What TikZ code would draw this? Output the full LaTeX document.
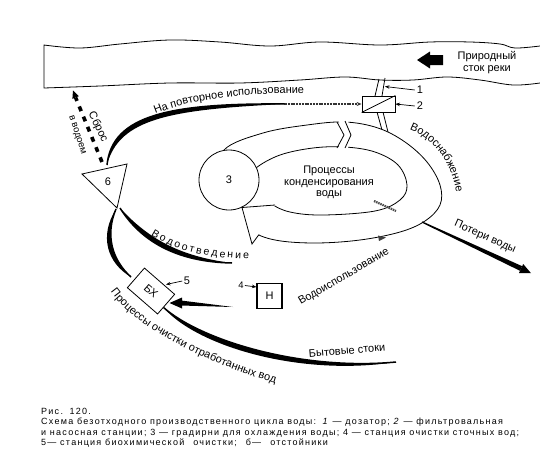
\documentclass[tikz,border=0pt]{standalone}
\usepackage{fontspec}
\setmainfont{Liberation Sans}
\newfontfamily\capfont[LetterSpace=14]{Liberation Sans}
\usetikzlibrary{arrows.meta,decorations.text,shapes.geometric}
\begin{document}
\begin{tikzpicture}[x=1pt,y=-1pt,
  thinline/.style={line width=0.8pt},
  lbl/.style={font=\fontsize{11}{12}\selectfont, inner sep=0pt},
  smalllbl/.style={font=\fontsize{9.5}{11}\selectfont, inner sep=0pt},
  captext/.style={font=\capfont\fontsize{9}{11}\selectfont, anchor=base west, inner sep=0pt},
  heavystroke/.style={line width=1.5pt},
  pointer/.style={line width=0.7pt, -{Stealth[length=4.5pt,width=3.5pt]}},
  boxnode/.style={draw, thinline, fill=white, inner sep=0pt},
]
\useasboundingbox (0,0) rectangle (540,458);

% ---------------- river
\draw[thinline] plot[smooth, tension=0.6] coordinates {(540,46) (515,48) (500,44) (470,42) (430,42) (380,45) (320,42) (270,46) (220,42) (170,40) (120,44) (80,48) (44,45)}
  -- plot[smooth, tension=0.6] coordinates {(44,88) (100,86) (170,83) (240,83) (300,80) (345,77) (380,80) (413,80) (447,77) (480,80) (513,85) (540,83)};
\fill (417,60) -- (430,51.5) -- (430,55) -- (443,55) -- (443,65) -- (430,65) -- (430,68.5) -- cycle;
\node[lbl, align=center] (river) at (487,63) {Природный\\сток реки};

% ---------------- pipe, dosing unit and filter station
\draw[thinline] (379,79) -- (375,96);
\draw[thinline] (385,78) -- (382,96);
\draw[thinline] (377,112) -- (382,130);
\draw[thinline] (383,112) -- (388,132);
\node[boxnode, minimum width=33pt, minimum height=16pt] (b2) at (378.5,104) {};
\draw[thinline] (b2.south west) -- (b2.north east);
\node[lbl] (n1) at (420,90) {1};
\node[lbl] (n2) at (420,106) {2};
\coordinate (pipe1) at (385,86.5);
\draw[pointer] ([xshift=-2pt]n1.west) -- (pipe1);
\draw[pointer] ([xshift=-2pt]n2.west) -- (b2.east);

% ---------------- condensation loop (broad band)
\draw[thinline, fill=white] plot[smooth cycle, tension=0.6] coordinates {(224,150) (263,133) (307,125) (345,122) (378,128) (405,142) (427,162) (440,185) (440,205) (425,221) (400,232) (360,240) (315,243) (275,240) (250,230) (230,210) (220,180)};
\draw[thinline, fill=white] plot[smooth cycle, tension=0.6] coordinates {(256,168) (280,155) (313,148) (345,147) (375,152) (398,165) (407,185) (400,200) (375,211) (323,215) (290,212) (270,203) (254,188) (252,178)};
% break at the top
\fill[white] (336,114) -- (346,114) -- (352,135) -- (346,153) -- (336,153) -- (344,135) -- cycle;
\draw[thinline] (337,122) -- (344,135) -- (337,148);
\draw[thinline] (345,121) -- (351,135) -- (345,148);
% arrow head into the cooling tower
\fill[white] (275,205) -- (262,190) -- (235,195) -- (222,215) -- (245,250) -- (252,245) -- (259,234.5) -- cycle;
\node[circle, draw, thinline, fill=white, minimum size=60pt, inner sep=0pt, font=\fontsize{11}{12}\selectfont] (c3) at (229,180) {3};
\draw[thinline] (275,205) -- (242,207.5) -- (252,244) -- (259,234.5);
\node[lbl, align=center, font=\fontsize{11}{11.3}\selectfont] (proc) at (329,182.5) {Процессы\\конденсирования\\воды};
% faint marks of water use
\draw[line width=2.2pt, black!70, dash pattern=on 1.5pt off 0.8pt] (374,201) -- (396,211);
\fill[black!75] (378,235.5) -- (386,237.5) -- (379,241) -- cycle;
\node[lbl, rotate=30] (use) at (344,277) {Водоиспользование};

% ---------------- water losses
\fill (421.7,222.6) -- (422.3,221.4) -- (522.2,266.2) -- (520,270.8) -- cycle;
\fill (531,273.2) -- (523.2,264) -- (519,273) -- cycle;
\node[lbl, rotate=-24] (loss) at (485,237) {Потери воды};

% ---------------- water supply label
\path[decorate, decoration={text along path, text align=center, text={|\fontsize{11}{12}\selectfont|Водоснабжение}}]
  (405,128) .. controls (432,136) and (452,160) .. (457,197);

% ---------------- settling tank 6
\coordinate (t1) at (82,174);
\coordinate (t2) at (127,164);
\coordinate (t3) at (117,208);

% reuse stream
\coordinate (r0) at (107,165);
\coordinate (r1) at (285,104);
\fill (r0) .. controls (112,115) and (170,103) .. (r1) .. controls (172,109.5) and (119,118) .. (r0) -- cycle;
\draw[heavystroke] (r0) .. controls (112,115) and (170,103) .. (r1);
\draw[line width=1.3pt, black!80, dash pattern=on 2pt off 0.8pt, -{Stealth[length=5pt,width=4pt]}] (r1) -- (b2.west);
\path[decorate, decoration={text along path, text align=center, text={|\fontsize{11}{12}\selectfont|На повторное использование}}]
  (148,117) .. controls (188,99) and (240,93) .. (312,93);

% discharge to the water body
\coordinate (d0) at (102,162);
\coordinate (d1) at (75.6,97.5);
\draw[line width=3.6pt, dash pattern=on 5pt off 6pt] (d0) -- (d1);
\fill (73,90.5) -- (78.8,96.2) -- (72.4,98.8) -- cycle;
\node[lbl, rotate=-64] (sbros) at (98,127) {Сброс};
\node[smalllbl, rotate=-72] (vvod) at (77,135) {в водоем};

% drainage stream
\coordinate (v0) at (120,208);
\coordinate (v1) at (232,263);
\fill (v0) .. controls (140,240) and (175,262) .. (v1) .. controls (176,256) and (146,236) .. (v0) -- cycle;
\draw[heavystroke] (v0) .. controls (140,240) and (175,262) .. (v1);
\path[decorate, decoration={text along path, text align=fit to path, text={|\fontsize{10.5}{12}\selectfont|Водоотведение}}]
  (151,235) .. controls (175,250) and (205,258) .. (249,259);

% left stream from 6 to BX
\coordinate (l0) at (116,209);
\coordinate (l1) at (131,277);
\fill (l0) .. controls (105,235) and (112,260) .. (l1) .. controls (107,263) and (99,236) .. (l0) -- cycle;
\draw[heavystroke] (l0) .. controls (105,235) and (112,260) .. (l1);

% tank 6
\draw[thinline, fill=white] (t1) -- (t2) -- (t3) -- cycle;
\node[lbl] (n6) at (108,182) {6};

% ---------------- biochemical station BX
\coordinate (h0) at (163,307);
\coordinate (h1) at (396,362);
\fill (h0) .. controls (200,340) and (300,371) .. (h1) .. controls (300,377) and (196,346) .. (h0) -- cycle;
\draw[heavystroke] (h0) .. controls (200,340) and (300,371) .. (h1);
\node[lbl, rotate=5] (byt) at (347,350.5) {Бытовые стоки};
\path[decorate, decoration={text along path, text align=center, text={|\fontsize{11}{12}\selectfont|Процессы очистки отработанных вод}}]
  (106,284) .. controls (125,322) and (200,362) .. (284,386);

\node[boxnode, minimum width=40pt, minimum height=26pt, rotate=-41, font=\fontsize{11}{12}\selectfont] (bx) at (151,291) {БХ};
\node[lbl] (n5) at (187,281) {5};
\draw[pointer] ([xshift=-1.5pt]n5.west) -- (166,284.5);

% arrow into BX
\coordinate (e0) at (233,307);
\coordinate (e1) at (181,303);
\fill (e0) -- (181,300.5) -- (181,305.5) -- cycle;
\fill (182,297.5) -- (169.5,303) -- (182,308.5) -- cycle;

% ---------------- station H
\node[draw, line width=1.1pt, minimum size=25pt, inner sep=0pt, font=\fontsize{11}{12}\selectfont] (hn) at (269.5,296) {Н};
\node[smalllbl] (n4) at (241,285.5) {4};
\draw[pointer] ([xshift=1pt]n4.east) -- ([yshift=-4pt]hn.north west);

% ---------------- caption
\node[captext] (cap1) at (41,414.5) {Рис.\, 120.};
\node[captext] (cap2) at (41,424.8) {Схема безотходного производственного цикла воды:\, \textit{1} — дозатор; \textit{2} — фильтровальная};
\node[captext] (cap3) at (41,435.1) {и насосная станции; 3 — градирни для охлаждения воды; 4 — станция очистки сточных вод;};
\node[captext] (cap4) at (41,445.4) {5— станция биохимической \, очистки; \, б— \, отстойники};
\end{tikzpicture}
\end{document}
